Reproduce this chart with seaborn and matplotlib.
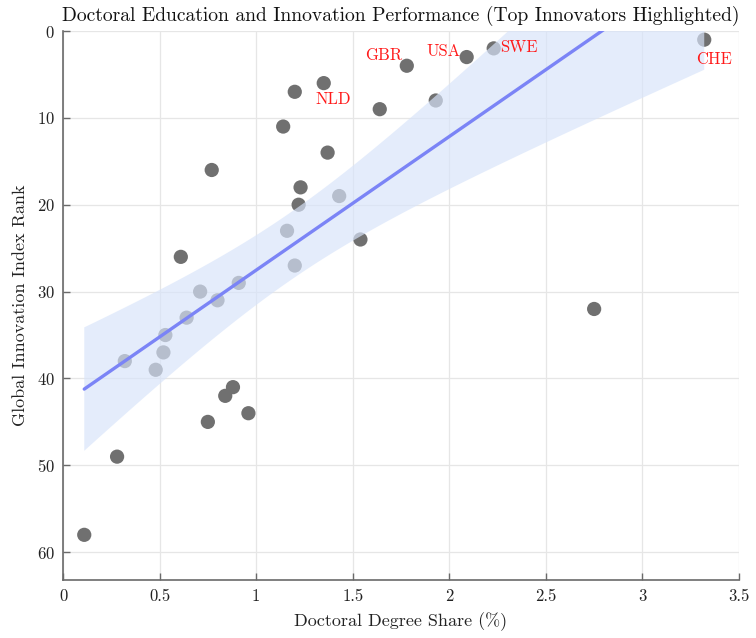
import numpy as np
import pandas as pd
import matplotlib
matplotlib.use("Agg")
import matplotlib.pyplot as plt
import seaborn as sns

doctoral_share = [0.11, 0.28, 0.61, 0.32, 0.48, 0.52, 0.53, 0.64, 0.71, 0.80, 0.91,
                  1.16, 1.20, 1.54, 0.88, 0.84, 0.96, 0.75, 1.20, 1.35, 1.78, 1.64,
                  1.14, 1.37, 0.77, 1.23, 1.22, 1.43, 2.09, 2.23, 1.93, 3.32, 2.75]
gii_rank = [58, 49, 26, 38, 39, 37, 35, 33, 30, 31, 29,
            23, 27, 24, 41, 42, 44, 45, 7, 6, 4, 9,
            11, 14, 16, 18, 20, 19, 3, 2, 8, 1, 32]

label_names = ["GBR", "USA", "SWE", "CHE", "NLD"]
label_x = [1.66, 1.97, 2.36, 3.37, 1.40]
label_y = [2.75, 2.3, 1.85, 3.3, 7.9]

df = pd.DataFrame({"share": doctoral_share, "rank": gii_rank})

# analytic 95% confidence band of the linear fit
x = np.asarray(doctoral_share, float)
y = np.asarray(gii_rank, float)
n = len(x)
slope, intercept = np.polyfit(x, y, 1)
resid = y - (slope * x + intercept)
s_err = np.sqrt(np.sum(resid ** 2) / (n - 2))
sxx = np.sum((x - x.mean()) ** 2)
t_val = 2.0395  # t(0.975, df=31)
grid = np.linspace(x.min(), x.max(), 200)
fit = slope * grid + intercept
hw = t_val * s_err * np.sqrt(1 / n + (grid - x.mean()) ** 2 / sxx)

sns.set_theme(style="white")
plt.rcParams["font.family"] = ["cmr10", "DejaVu Serif"]
plt.rcParams["mathtext.fontset"] = "cm"
plt.rcParams["axes.formatter.use_mathtext"] = True
plt.rcParams["axes.unicode_minus"] = False

fig = plt.figure(figsize=(7.56, 6.38), dpi=100)
ax = fig.add_axes([63 / 756, 1 - 580 / 638, (739 - 63) / 756, (580 - 31) / 638])

sns.scatterplot(data=df, x="share", y="rank", ax=ax, s=105, color="#707070",
                edgecolor="none", linewidth=0, zorder=2)
ax.fill_between(grid, fit - hw, fit + hw, facecolor="#d8e4fa", alpha=0.68,
                edgecolor="none", zorder=3)
sns.regplot(data=df, x="share", y="rank", ax=ax, scatter=False, ci=None,
            line_kws={"color": "#7b84f6", "lw": 2.4, "zorder": 4}, truncate=True)

for name, lx, ly in zip(label_names, label_x, label_y):
    ax.text(lx, ly, name, color="#ff1a1a", fontsize=12, ha="center", va="center", zorder=5)

ax.set_xlim(0, 3.5)
ax.set_ylim(63.2, 0)
ax.set_xticks([0, 0.5, 1, 1.5, 2, 2.5, 3, 3.5])
ax.set_xticklabels(["0", "0.5", "1", "1.5", "2", "2.5", "3", "3.5"])
ax.set_yticks([0, 10, 20, 30, 40, 50, 60])
ax.grid(True, color="#e6e6e6", lw=0.9)
ax.set_axisbelow(True)
for side in ["top", "right"]:
    ax.spines[side].set_visible(False)
for side in ["left", "bottom"]:
    ax.spines[side].set_color("#6a6a6a")
    ax.spines[side].set_linewidth(1.2)
ax.tick_params(direction="in", length=5, width=1, color="#6a6a6a", labelsize=12,
               labelcolor="#222222", left=True, bottom=True, pad=6)

ax.set_xlabel("Doctoral Degree Share (%)", fontsize=13, color="#222222", labelpad=6)
ax.set_ylabel("Global Innovation Index Rank", fontsize=13, color="#222222", labelpad=6)
ax.set_title("Doctoral Education and Innovation Performance (Top Innovators Highlighted)",
             fontsize=14.1, color="#111111", pad=7)

fig.savefig("out.png", dpi=100)
